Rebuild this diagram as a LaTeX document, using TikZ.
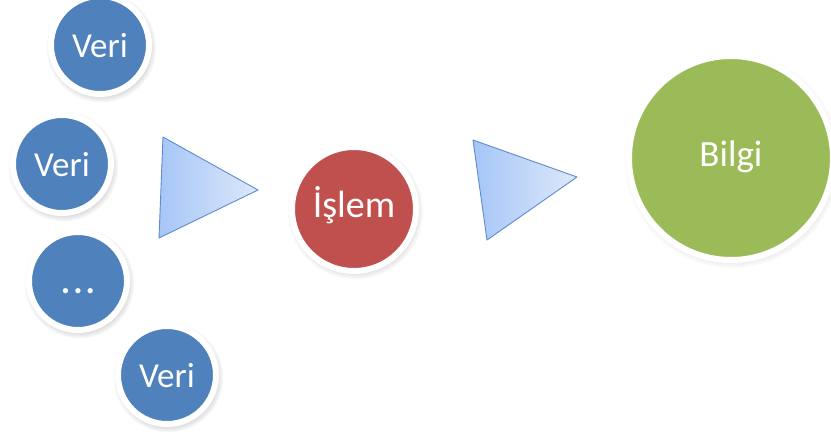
\documentclass[tikz,border=0pt]{standalone}
\usepackage{fontspec}
\setmainfont{Carlito}
\usepackage{tikz}
\usetikzlibrary{shadows,fadings}

\definecolor{veriblue}{HTML}{4F81BD}
\definecolor{islemred}{HTML}{C0504D}
\definecolor{bilgigreen}{HTML}{9BBB59}
\definecolor{okdark}{HTML}{A6C6F7}
\definecolor{oklight}{HTML}{DDE8FA}
\definecolor{okline}{HTML}{5B8BD0}

\begin{document}
\begin{tikzpicture}[x=1pt, y=-1pt,
    every node/.style={circle, draw=white, line width=6pt, text=white, inner sep=0pt},
    veri/.style={fill=veriblue, minimum size=98pt, font=\fontsize{35}{40}\selectfont,
        text height=24pt, text depth=0pt,
        circular drop shadow={shadow scale=1.13, shadow xshift=1pt, shadow yshift=-2pt, opacity=0.35}},
    islem/.style={fill=islemred, minimum size=124pt, font=\fontsize{38}{44}\selectfont,
        text height=26pt, text depth=10pt,
        circular drop shadow={shadow scale=1.1, shadow xshift=1pt, shadow yshift=-2pt, opacity=0.35}},
    bilgi/.style={fill=bilgigreen, minimum size=204pt, font=\fontsize{37}{42}\selectfont,
        text height=26pt, text depth=10pt,
        circular drop shadow={shadow scale=1.06, shadow xshift=1pt, shadow yshift=-2pt, opacity=0.35}},
    okucu/.style={draw=okline, line width=0.9pt, left color=okdark, right color=oklight, line join=round}
    ]
\useasboundingbox (0,0) rectangle (831,434);
% inputs
\node[veri] (v1) at (100,45)  {Veri};
\node[veri] (v2) at (62,164)  {Veri};
\node[veri] (v3) at (78,281)  {\bfseries .\hspace{3pt}.\hspace{3pt}.};
\node[veri] (v4) at (167,375) {Veri};

\shade[okucu] (163,137) -- (258,190) -- (159,238) -- cycle;

\node[islem] (islem) at (354,209) {İşlem};

\shade[okucu] (473,140) -- (577,177) -- (487,240) -- cycle;

\node[bilgi] (bilgi) at (731,158) {Bilgi};
\end{tikzpicture}
\end{document}
